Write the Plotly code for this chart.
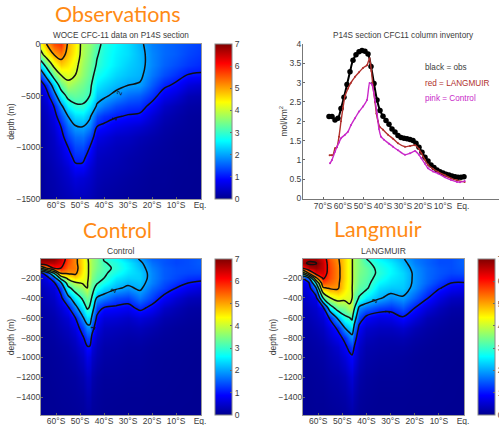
import numpy as np
import plotly.graph_objects as go

OBS_LAT = [-66.5,-64,-61,-58,-55,-52,-49,-46,-43,-40,-35,-30,-25,-20,-15,-10,-5,0.5]
OBS_DEPTH = [0,-100,-200,-300,-400,-500,-600,-700,-800,-900,-1000,-1100,-1200,-1300,-1500]
OBS_COLUMNS = [
 [4.4,3.7,2.5,1.4,.6,.4,.3,.25,.2,.2,.15,.15,.12,.1,.1],
 [5.0,4.4,3.3,2.3,1.2,.7,.5,.4,.35,.3,.3,.25,.2,.2,.15],
 [5.6,5.0,4.2,3.3,2.3,1.6,1.0,.7,.55,.45,.4,.35,.3,.25,.2],
 [5.8,5.3,4.7,4.0,3.3,2.6,1.85,1.4,1.0,.8,.6,.5,.4,.35,.25],
 [4.9,4.8,4.5,4.2,3.8,3.2,2.6,2.0,1.6,1.3,1.0,.75,.55,.45,.3],
 [4.5,4.4,4.2,4.0,3.6,3.3,2.9,2.4,1.95,1.6,1.35,1.15,.85,.6,.35],
 [3.8,3.8,3.7,3.6,3.4,3.2,2.95,2.45,2.0,1.65,1.4,1.15,.85,.55,.35],
 [3.6,3.5,3.4,3.3,3.15,3.0,2.5,2.1,1.75,1.35,1.0,.75,.55,.45,.3],
 [3.2,3.05,2.95,2.75,2.5,2.2,1.95,1.4,1.0,.7,.5,.4,.35,.3,.2],
 [2.85,2.8,2.75,2.6,2.35,2.1,1.7,1.2,.9,.6,.45,.35,.3,.25,.15],
 [2.6,2.55,2.5,2.35,2.15,1.85,1.4,1.05,.7,.45,.35,.3,.25,.2,.12],
 [2.4,2.4,2.3,2.2,2.0,1.6,1.25,.95,.6,.4,.3,.22,.2,.15,.1],
 [2.1,2.15,2.15,2.1,1.95,1.5,1.2,.9,.5,.3,.22,.18,.15,.12,.08],
 [1.75,1.8,1.8,1.7,1.5,1.2,.85,.55,.35,.22,.16,.13,.1,.08,.06],
 [1.6,1.6,1.55,1.4,1.1,.75,.45,.3,.2,.15,.12,.1,.08,.08,.05],
 [1.5,1.5,1.4,1.2,.9,.55,.3,.2,.14,.1,.08,.08,.06,.05,.04],
 [1.4,1.35,1.25,.98,.6,.3,.18,.12,.1,.08,.06,.05,.05,.04,.03],
 [1.3,1.25,1.15,.95,.5,.25,.15,.1,.08,.06,.05,.04,.04,.03,.03],
]

MODEL_LAT = [-66.5,-64,-61,-58,-55,-52,-49,-47,-46,-45,-43,-40,-35,-30,-25,-20,-15,-10,-5,0.5]
MODEL_DEPTH = [-8,-50,-100,-150,-200,-250,-300,-400,-500,-600,-700,-800,-900,-1000,-1200,-1400,-1580]
CONTROL_COLUMNS = [
 [7,6.6,4,.8,.5,.4,.3,.25,.2,.15,.12,.1,.1,.08,.06,.05,.05],
 [7,6.6,5,1.4,.7,.55,.45,.35,.25,.2,.15,.12,.1,.08,.06,.05,.05],
 [6.9,6.6,6,3,1.5,.85,.6,.45,.35,.25,.2,.15,.12,.1,.08,.06,.05],
 [6.5,6.3,6,5.1,3.3,1.85,1.3,.85,.55,.4,.3,.22,.17,.13,.1,.08,.06],
 [5.7,5.6,5.4,5.1,4.2,3.4,2.8,1.75,.9,.55,.4,.3,.22,.18,.12,.09,.07],
 [5.2,5.2,5.3,5.15,4.6,3.9,3.4,2.5,1.75,1.0,.65,.45,.35,.25,.15,.11,.08],
 [4.5,4.5,4.5,4.4,4.3,4.05,3.7,3.1,2.5,1.9,1.3,.9,.6,.45,.25,.15,.1],
 [4.05,4.1,4.1,4.1,4.1,4.05,4.0,3.4,3.1,2.4,1.8,1.3,.95,.7,.4,.25,.15],
 [3.9,3.9,3.9,3.9,3.85,3.7,3.5,3.2,2.95,2.4,1.85,1.35,.95,.65,.4,.25,.15],
 [3.7,3.7,3.7,3.6,3.5,3.35,3.2,2.95,2.4,1.85,1.25,.85,.6,.45,.25,.15,.1],
 [3.45,3.45,3.4,3.3,3.2,3.05,2.8,1.95,1.3,.9,.65,.45,.35,.28,.15,.1,.08],
 [2.95,3.05,3.15,3.1,3.0,2.75,2.4,1.75,.97,.6,.4,.3,.22,.18,.1,.07,.05],
 [2.7,2.85,2.9,2.75,2.5,2.3,2.1,1.4,.9,.55,.35,.25,.2,.15,.1,.06,.04],
 [2.3,2.5,2.55,2.45,2.3,2.1,1.9,1.3,.8,.45,.3,.2,.15,.12,.08,.05,.04],
 [1.95,2.1,2.2,2.3,2.3,2.2,2.1,1.7,1.15,.6,.35,.22,.15,.12,.08,.05,.04],
 [1.55,1.65,1.75,1.8,1.8,1.75,1.6,1.3,.85,.45,.25,.15,.1,.08,.06,.04,.03],
 [1.45,1.45,1.5,1.5,1.5,1.4,1.3,.85,.45,.25,.15,.1,.08,.06,.05,.04,.03],
 [1.35,1.35,1.4,1.4,1.35,1.2,1.0,.55,.3,.18,.1,.08,.06,.05,.04,.03,.03],
 [1.4,1.4,1.4,1.35,1.2,1.0,.75,.35,.18,.12,.08,.06,.05,.04,.03,.03,.02],
 [1.5,1.5,1.45,1.35,1.15,.9,.6,.3,.15,.1,.07,.05,.04,.03,.03,.02,.02],
]
LANGMUIR_COLUMNS = [
 [6.6,6.8,6,3.3,1.0,.7,.55,.4,.3,.25,.2,.15,.12,.1,.08,.06,.05],
 [6.8,7.1,6.6,5,1.8,.85,.7,.55,.4,.3,.22,.18,.14,.12,.08,.06,.05],
 [6.8,7.05,6.8,6.3,4.8,2.9,1.85,.7,.5,.4,.3,.22,.18,.14,.1,.08,.06],
 [6.4,6.5,6.5,6.4,6.1,5.6,4.9,3.0,.85,.55,.4,.3,.22,.18,.12,.08,.06],
 [5.5,5.6,5.65,5.65,5.6,5.4,5.1,4.0,2.6,1.1,.7,.5,.35,.28,.18,.12,.08],
 [5.1,5.15,5.2,5.2,5.2,5.15,5.1,4.3,3.35,2.1,1.1,.75,.5,.38,.22,.15,.1],
 [4.6,4.6,4.6,4.6,4.6,4.55,4.5,4.2,3.5,2.85,2.0,1.15,.85,.6,.32,.2,.12],
 [4.2,4.2,4.2,4.2,4.2,4.2,4.2,4.15,3.9,3.0,2.3,1.7,1.15,.85,.5,.3,.18],
 [4.05,4.05,4.05,4.05,4.05,4.05,4.03,4.03,3.75,3.15,2.5,1.8,1.3,.9,.55,.35,.2],
 [3.75,3.75,3.75,3.75,3.75,3.7,3.65,3.3,3.05,2.35,1.8,1.3,.95,.7,.4,.25,.15],
 [3.5,3.5,3.5,3.45,3.4,3.35,3.25,2.95,1.85,1.35,.85,.6,.45,.35,.2,.12,.08],
 [3.0,3.15,3.3,3.3,3.25,3.2,3.1,2.5,1.6,.85,.5,.35,.25,.2,.12,.08,.05],
 [2.6,2.75,2.85,2.9,2.8,2.6,2.4,2.1,1.3,.65,.4,.25,.2,.15,.08,.05,.04],
 [2.35,2.5,2.6,2.6,2.5,2.4,2.25,1.8,1.2,.7,.4,.25,.18,.14,.08,.05,.04],
 [2.05,2.15,2.25,2.35,2.35,2.3,2.25,1.95,1.45,.95,.5,.28,.18,.12,.08,.05,.04],
 [1.7,1.75,1.85,1.9,1.9,1.9,1.85,1.5,1.0,.6,.3,.18,.12,.08,.06,.04,.03],
 [1.55,1.55,1.6,1.6,1.6,1.55,1.4,1.05,.6,.3,.18,.12,.08,.06,.05,.04,.03],
 [1.4,1.4,1.45,1.45,1.4,1.25,1.05,.65,.35,.2,.12,.08,.06,.05,.04,.03,.03],
 [1.4,1.4,1.4,1.35,1.2,1.0,.8,.4,.2,.12,.08,.06,.05,.04,.03,.03,.02],
 [1.55,1.55,1.5,1.4,1.2,.98,.7,.35,.17,.1,.07,.05,.04,.03,.03,.02,.02],
]

INV_OBS_LAT = [-67,-65.5,-64,-62.5,-61,-59.5,-58,-56.5,-55,-53.5,-52,-50.5,-49,-47.5,-46,-44.5,-43,-41.5,-40,-38.5,-37,-35.5,-34,-32.5,-31,-29.5,-28,-26.5,-25,-23.5,-22,-20.5,-19,-17.5,-16,-14.5,-13,-11.5,-10,-8.5,-7,-5.5,-4,-2.5,-1,0.5]
INV_OBS = [2.12,2.12,2.03,2.08,2.33,2.62,2.95,3.28,3.58,3.72,3.80,3.83,3.81,3.74,3.42,2.98,2.55,2.28,2.13,2.02,1.92,1.8,1.72,1.63,1.58,1.56,1.55,1.53,1.5,1.43,1.33,1.2,1.07,.97,.87,.8,.74,.69,.66,.63,.61,.58,.56,.55,.55,.56]
INV_RED_LAT = [-66.7,-65.8,-65,-64,-63,-62,-61,-60,-59,-57.5,-56,-54,-52,-50,-48,-46.7,-45.8,-45,-44,-43.3,-42.5,-41.7,-40,-37.5,-35,-32.5,-29,-26.5,-24,-22,-20.8,-19,-17.5,-15,-12.5,-9,-6,-3,0.8]
INV_RED = [1.12,1.12,1.12,1.3,1.33,1.6,2.0,2.35,2.65,2.85,3.0,3.15,3.27,3.38,3.45,3.63,3.3,2.9,2.5,2.2,2.0,1.86,1.78,1.65,1.55,1.43,1.34,1.36,1.38,1.28,1.17,1.0,.87,.77,.69,.6,.52,.47,.43]
INV_PINK_LAT = [-66.5,-65.5,-64,-63,-62,-61,-59,-57.5,-56,-54,-52,-50,-48,-46.7,-45.5,-44,-43,-42,-41,-39.5,-37,-35,-32.5,-29,-26.5,-24,-22,-20.8,-19,-17.5,-15,-12.5,-9,-6,-3,-1.5,0.8]
INV_PINK = [.91,1.0,1.21,1.34,1.45,1.56,1.65,1.73,1.9,2.08,2.25,2.38,2.55,2.99,2.95,2.55,2.2,1.8,1.6,1.52,1.42,1.34,1.25,1.13,1.17,1.23,1.13,1.04,.9,.78,.7,.65,.55,.48,.43,.42,.45]

LAT_TICKS = [-60,-50,-40,-30,-20,-10,0]
LAT_LABELS = ["60°S","50°S","40°S","30°S","20°S","10°S","Eq."]
INV_TICKS = [-70,-60,-50,-40,-30,-20,-10,0]
INV_LABELS = ["70°S","60°S","50°S","40°S","30°S","20°S","10°S","Eq."]
CB_TICKS = [0,1,2,3,4,5,6,7]
CONTOUR_LEVELS = dict(start=1, end=7, size=1, coloring="none")

W, H = 499, 425
TXT = "#3c3c3c"
FONT = "Liberation Sans"
TICK = 8.5
JET = [[0,"#00008F"],[.125,"#0000FF"],[.375,"#00FFFF"],[.625,"#FFFF00"],[.875,"#FF0000"],[1,"#800000"]]

def px_x(a, b): return [a / W, b / W]
def px_y(top, bot): return [1 - bot / H, 1 - top / H]

fig = go.Figure()

def section(n, lat, depth, cols, xd, yd, cb_left, yrange, yticks):
    z = np.array(cols).T
    xa, ya = f"x{n}", f"y{n}"
    fig.add_trace(go.Heatmap(x=lat, y=depth, z=z, zmin=0, zmax=7, zsmooth="best",
        colorscale=JET, xaxis=xa, yaxis=ya, hoverinfo="skip",
        colorbar=dict(x=cb_left / W, xanchor="left", y=1 - yd[1] / H, yanchor="bottom",
                      len=(yd[1] - yd[0]) / H, lenmode="fraction", thickness=17, thicknessmode="pixels",
                      tickvals=CB_TICKS, ticks="inside", ticklen=2, tickcolor="#666",
                      tickfont=dict(size=8.5, color=TXT, family=FONT), outlinecolor="#888",
                      outlinewidth=1, xpad=0, ypad=0)))
    fig.add_trace(go.Contour(x=lat, y=depth, z=z, contours=CONTOUR_LEVELS, showscale=False,
        line=dict(color="#111", width=1.5), xaxis=xa, yaxis=ya, hoverinfo="skip", line_smoothing=1.0))
    axis = dict(showgrid=False, zeroline=False, ticks="inside", ticklen=2, tickcolor="#666",
                showline=True, linecolor="#999", linewidth=1, mirror=True, ticklabelstandoff=-2,
                tickfont=dict(size=TICK, color=TXT, family=FONT))
    fig.layout[f"xaxis{n}"] = dict(axis, domain=px_x(*xd), range=[-66.3, 0.4], tickvals=LAT_TICKS,
                                   ticktext=LAT_LABELS, anchor=ya)
    fig.layout[f"yaxis{n}"] = dict(axis, domain=px_y(*yd), range=yrange, tickvals=yticks, anchor=xa,
                                   title=dict(text="depth (m)", standoff=0,
                                              font=dict(size=8.5, color=TXT, family=FONT)))

TICKS_OBS = [0,-500,-1000,-1500]
TICKS_MODEL = [-200,-400,-600,-800,-1000,-1200,-1400]
section("", OBS_LAT, OBS_DEPTH, OBS_COLUMNS, (41,201), (44,199), 215, [-1500,0], TICKS_OBS)
section("3", MODEL_LAT, MODEL_DEPTH, CONTROL_COLUMNS, (41,201), (259,415), 215, [-1581,-8], TICKS_MODEL)
section("4", MODEL_LAT, MODEL_DEPTH, LANGMUIR_COLUMNS, (303,464), (259,415), 478, [-1581,-8], TICKS_MODEL)

fig.add_trace(go.Scatter(x=INV_OBS_LAT, y=INV_OBS, mode="lines+markers", xaxis="x2", yaxis="y2",
    line=dict(color="#000", width=2, shape="spline"), marker=dict(color="#000", size=5.5), hoverinfo="skip"))
fig.add_trace(go.Scatter(x=INV_RED_LAT, y=INV_RED, mode="lines+markers", xaxis="x2", yaxis="y2",
    line=dict(color="#b0302c", width=1.4, shape="spline", smoothing=.5), marker=dict(color="#b0302c", size=2), hoverinfo="skip"))
fig.add_trace(go.Scatter(x=INV_PINK_LAT, y=INV_PINK, mode="lines+markers", xaxis="x2", yaxis="y2",
    line=dict(color="#c828c8", width=1.4, shape="spline", smoothing=.5), marker=dict(color="#c828c8", size=2), hoverinfo="skip"))

ax2 = dict(showgrid=False, zeroline=False, ticks="inside", ticklen=2, tickcolor="#666",
           showline=True, linecolor="#777", linewidth=1, ticklabelstandoff=-1,
           tickfont=dict(size=8.5, color=TXT, family=FONT))
fig.layout.xaxis2 = dict(ax2, domain=[303/W, 1], range=[-80, 18], tickvals=INV_TICKS, ticktext=INV_LABELS,
                         anchor="y2", tickangle=0)
fig.layout.yaxis2 = dict(ax2, domain=px_y(44,198.5), range=[0,4], tickvals=[0,.5,1,1.5,2,2.5,3,3.5,4],
                         ticktext=["0","0.5","1","1.5","2","2.5","3","3.5","4"], anchor="x2",
                         title=dict(text="mol/km<sup>2</sup>", standoff=0, font=dict(size=8.5, color=TXT, family=FONT)))

def note(x, y, text, size=8.5, color=TXT, family=FONT, anchor="center"):
    fig.add_annotation(x=x / W, y=1 - y / H, xref="paper", yref="paper", text=text, showarrow=False,
                       xanchor=anchor, yanchor="middle", font=dict(size=size, color=color, family=family))

def contour_label(xref, yref, lat, depth, text):
    fig.add_annotation(x=lat, y=depth, xref=xref, yref=yref, text=text, showarrow=False,
                       font=dict(size=7, color="#111", family=FONT), textangle=-70)

ORANGE = "#FF8A14"
note(118, 14, "Observations", size=21.5, color=ORANGE, family="Lato")
note(117, 229, "Control", size=21, color=ORANGE, family="Lato")
note(378, 229, "Langmuir", size=21.5, color=ORANGE, family="Lato")
note(121, 35, "WOCE CFC-11 data on P14S section", size=8.2)
note(403, 35, "P14S section CFC11 column inventory", size=8.2)
note(121, 251, "Control")
note(383, 251, "LANGMUIR")
note(423, 67, "black = obs", anchor="left", size=8.2)
note(423, 83, "red = LANGMUIR", anchor="left", color="#b0302c", size=8.2)
note(423, 98, "pink = Control", anchor="left", color="#c828c8", size=8.2)
contour_label("x", "y", -33.6, -470, "2")
contour_label("x", "y", -35.4, -725, "1")
contour_label("x3", "y3", -36, -330, "2")
contour_label("x3", "y3", -44.5, -700, "1")
contour_label("x4", "y4", -36.5, -430, "2")
contour_label("x4", "y4", -31, -540, "1")

fig.update_layout(width=W, height=H, margin=dict(l=0, r=0, t=0, b=0, autoexpand=False),
                  paper_bgcolor="white", plot_bgcolor="white", showlegend=False)
fig.write_html("out.html", post_script="document.body.style.margin='0';",
               config=dict(displayModeBar=False))
